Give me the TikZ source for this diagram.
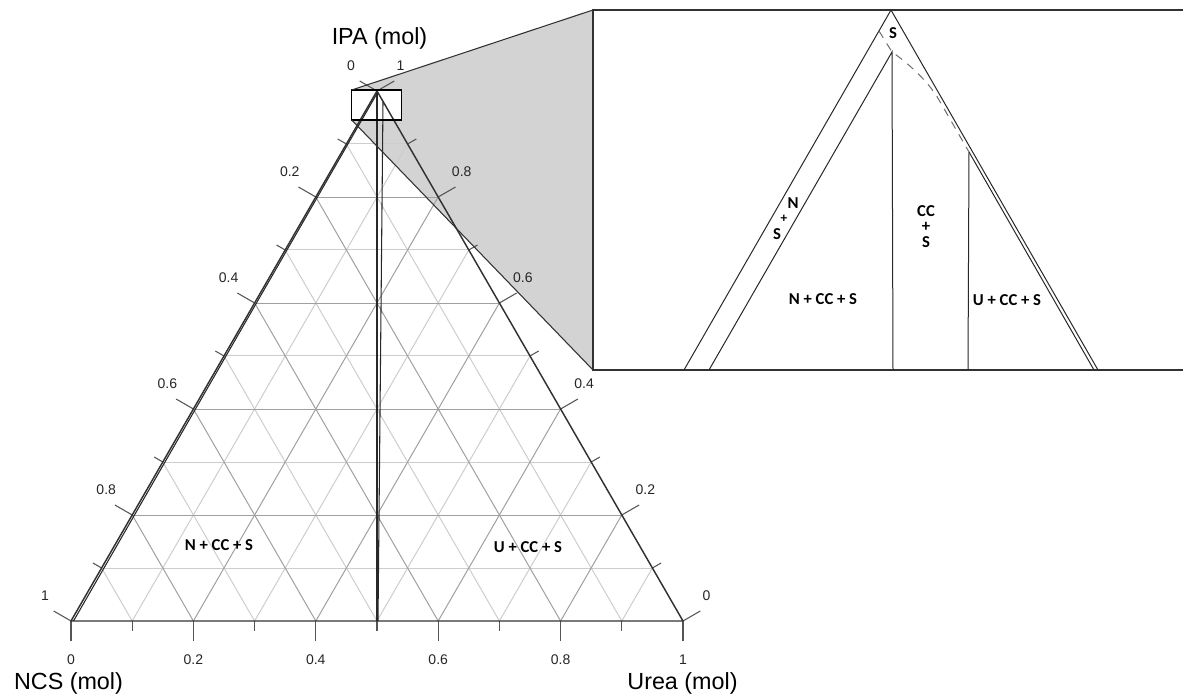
\documentclass[tikz,border=0pt]{standalone}
\usepackage{fontspec}
\setmainfont{Liberation Sans}
\newfontfamily\lblfont{Carlito}
\usetikzlibrary{calc}
\definecolor{wedgegray}{RGB}{211,211,211}
\definecolor{edgecol}{RGB}{50,50,50}
\definecolor{gridlight}{RGB}{205,205,205}
\definecolor{griddark}{RGB}{160,160,160}
\definecolor{tickcol}{RGB}{85,85,85}
\definecolor{linecol}{RGB}{40,40,40}
\definecolor{dashcol}{RGB}{110,110,110}
\begin{document}
\begin{tikzpicture}[x=0.75pt,y=-0.75pt,
  ticklbl/.style={font=\fontsize{10.5}{12}\selectfont, text=black!85, inner sep=0pt},
  axtitle/.style={font=\fontsize{17.5}{20}\selectfont, inner sep=0pt},
  phase/.style={font=\lblfont\bfseries\fontsize{12.5}{14}\selectfont, inner sep=0pt},
  stack/.style={font=\lblfont\bfseries\fontsize{12.5}{11.6}\selectfont, inner sep=0pt, align=center},
  tickline/.style={tickcol, line width=0.8pt},
  gridl/.style={gridlight, line width=0.75pt},
  gridd/.style={griddark, line width=0.75pt},
  insetline/.style={linecol, line width=0.75pt},
  dashline/.style={dashcol, line width=0.75pt, dash pattern=on 6pt off 5pt},
  phaseline/.style={linecol, line width=0.8pt}]
\useasboundingbox (0,0) rectangle (1183,698);
% vertices
\coordinate (A) at (71,621);
\coordinate (B) at (683,621);
\coordinate (C) at (377,91);
% zoom rectangle and wedge
\coordinate (r1) at (351.7,90);
\coordinate (r2) at (401.7,120);
\coordinate (r3) at (351.7,120);
\coordinate (i1) at (593,10);
\coordinate (i2) at (593,370);
\coordinate (i3) at (1183,10);
\coordinate (i4) at (1183,370);
\fill[wedgegray] (r1) -- (i1) -- (i2) -- (r3) -- cycle;
\fill[white] (r1) rectangle (r2);
% grid
\foreach \k in {1,3,5,7,9} {
  \draw[gridl] ($(A)!\k/10!(C)$) -- ($(B)!\k/10!(C)$);
  \draw[gridl] ($(A)!\k/10!(B)$) -- ($(C)!\k/10!(B)$);
  \draw[gridl] ($(B)!\k/10!(A)$) -- ($(C)!\k/10!(A)$);
}
\foreach \k in {2,4,6,8} {
  \draw[gridd] ($(A)!\k/10!(C)$) -- ($(B)!\k/10!(C)$);
  \draw[gridd] ($(A)!\k/10!(B)$) -- ($(C)!\k/10!(B)$);
  \draw[gridd] ($(B)!\k/10!(A)$) -- ($(C)!\k/10!(A)$);
}
% ticks
\foreach \k in {0,2,4,6,8,10} {
  \draw[tickline] ($(A)!\k/10!(B)$) -- ++(0,20);
  \draw[tickline] ($(C)!\k/10!(A)$) -- ++(-17.3,-10);
  \draw[tickline] ($(B)!\k/10!(C)$) -- ++(17.3,-10);
}
\foreach \k in {1,3,5,7,9} {
  \draw[tickline] ($(A)!\k/10!(B)$) -- ++(0,10);
  \draw[tickline] ($(C)!\k/10!(A)$) -- ++(-8.7,-5);
  \draw[tickline] ($(B)!\k/10!(C)$) -- ++(8.7,-5);
}
% tick labels
\foreach \k/\t in {0/0,2/0.2,4/0.4,6/0.6,8/0.8,10/1} {
  \node[ticklbl] (bl\k) at ($(A)!\k/10!(B)+(0,39)$) {\t};
  \node[ticklbl] (ll\k) at ($(C)!\k/10!(A)+(-26,-25)$) {\t};
  \node[ticklbl] (rl\k) at ($(B)!\k/10!(C)+(23.5,-25)$) {\t};
}
% triangle edges
\draw[edgecol, line width=1.1pt, line join=round] (A) -- (B) -- (C) -- cycle;
% phase boundaries (main)
\coordinate (Ci) at (377,93.5);
\coordinate (Nb) at (73.5,621);
\coordinate (Vb) at (377,621);
\coordinate (Ut) at (383,102);
\coordinate (Ub) at (378,621);
\draw[phaseline] (Ci) -- (Nb);
\draw[phaseline] (Ci) -- (Vb);
\draw[phaseline] (Ut) -- (Ub);
\node[phase] (mN) at (219,545) {N + CC + S};
\node[phase] (mU) at (528,547) {U + CC + S};
% axis titles
\node[axtitle] (tIPA) at (379.5,38) {IPA (mol)};
\node[axtitle] (tNCS) at (68.5,683) {NCS (mol)};
\node[axtitle] (tUrea) at (682.5,683) {Urea (mol)};
% zoom rectangle and wedge edges
\draw[black, line width=0.9pt] (r1) rectangle (r2);
\draw[edgecol, line width=0.8pt] (r1) -- (i1);
\draw[edgecol, line width=0.8pt] (r3) -- (i2);
% inset
\fill[white] (i1) rectangle (i4);
\draw[edgecol, line width=0.9pt] (i3) -- (i1) -- (i2) -- (i4);
\coordinate (T) at (891,10);
\coordinate (TL) at (684,370);
\coordinate (TR) at (1098,370);
\coordinate (I) at (892,52);
\coordinate (IL) at (709,370);
\coordinate (IV) at (893,370);
\coordinate (J) at (969,152);
\coordinate (JV) at (968,370);
\coordinate (JR) at (1094,370);
\coordinate (D0) at (879,31);
\coordinate (D1) at (939,100);
\draw[insetline] (TL) -- (T) -- (TR);
\draw[insetline] (IL) -- (I) -- (IV);
\draw[insetline] (J) -- (JV);
\draw[insetline] (J) -- (JR);
\draw[dashline] (D0) -- (I) .. controls (912,66) and (930,84) .. (D1) -- (J);
\node[phase] (zS) at (893,33) {S};
\node[phase] (zN1) at (793,203) {N};
\node[phase, font=\lblfont\bfseries\fontsize{10}{11}\selectfont] (zP1) at (784,219) {+};
\node[phase] (zS1) at (777,234) {S};
\node[phase] (zNCC) at (823,299) {N + CC + S};
\node[stack] (zCCS) at (926,226.5) {CC\\+\\S};
\node[phase] (zUCC) at (1007,300) {U + CC + S};
\end{tikzpicture}
\end{document}
